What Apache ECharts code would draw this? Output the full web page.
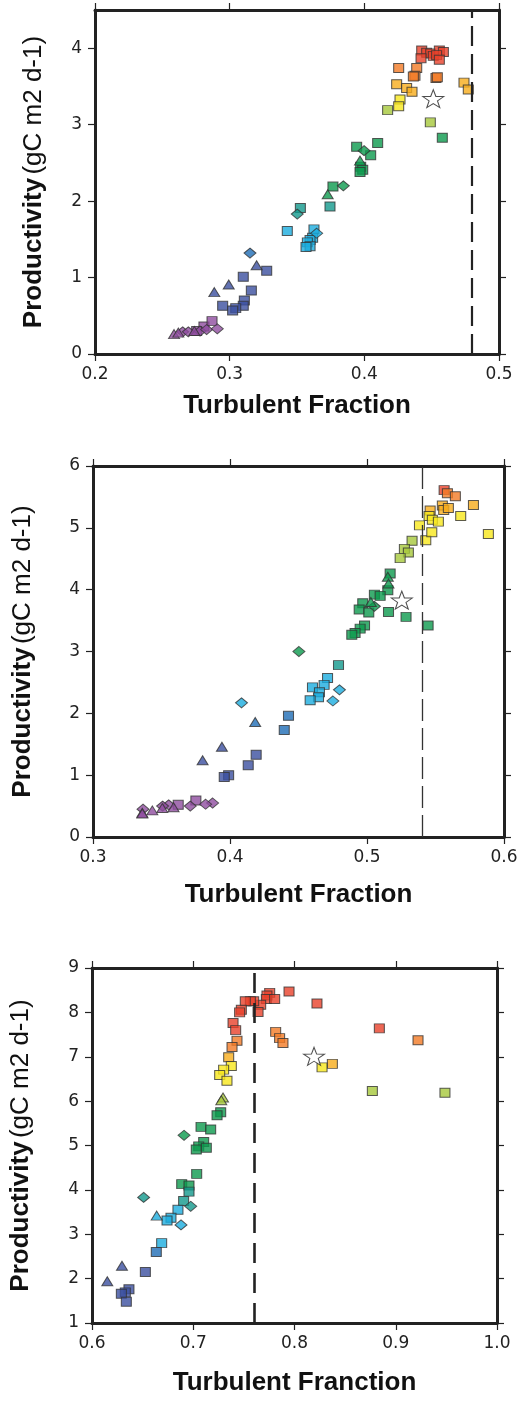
<!DOCTYPE html>
<html>
<head>
<meta charset="utf-8">
<script src="https://cdn.jsdelivr.net/npm/echarts@6/dist/echarts.min.js"></script>
<style>
html,body{margin:0;padding:0;background:#fff;}
#chart{width:524px;height:1403px;}
</style>
</head>
<body>
<div id="chart"></div>
<script>
// Colour levels (purple -> red)
const palette = ['#8e4c9f','#3b4f9f','#1f6db5','#1badde','#13998c','#0d9a4d','#a6c83b','#f7e71c','#f8ad1c','#f37b25','#e8412b'];

// ---------- Panel 1 ----------  [turbulent fraction, productivity, colour level]
const p1Squares = [
  [0.4426,3.97,10],[0.4463,3.94,10],[0.4493,3.93,10],[0.4512,3.90,10],[0.4557,3.97,10],[0.4587,3.95,10],
  [0.4421,3.87,10],[0.4537,3.91,10],[0.4557,3.85,10],
  [0.4255,3.74,9],[0.4389,3.74,9],[0.4376,3.64,9],[0.4364,3.63,9],[0.4532,3.61,9],[0.4542,3.62,9],
  [0.4240,3.53,8],[0.4314,3.48,8],[0.4354,3.43,8],[0.4740,3.55,8],[0.4772,3.46,8],
  [0.4265,3.33,7],[0.4255,3.24,7],
  [0.4173,3.19,6],[0.4490,3.03,6],
  [0.4579,2.83,5],[0.3943,2.71,5],[0.4047,2.60,5],[0.4099,2.76,5],[0.3973,2.45,5],[0.3988,2.41,5],[0.3968,2.38,5],
  [0.3767,2.19,5],
  [0.3745,1.93,4],[0.3525,1.91,4],
  [0.3428,1.61,3],[0.3626,1.63,3],[0.3616,1.52,3],[0.3597,1.49,3],[0.3577,1.46,3],[0.3597,1.41,3],[0.3567,1.40,3],
  [0.3275,1.09,1],[0.3101,1.01,1],[0.3161,0.83,1],[0.2948,0.63,1],[0.3109,0.70,1],[0.3101,0.63,1],[0.3045,0.60,1],[0.3022,0.57,1],
  [0.2809,0.36,0],[0.2869,0.43,0],[0.2755,0.30,0]
];
const p1Diamonds = [
  [0.3998,2.66,5],[0.3844,2.20,5],[0.3502,1.83,4],[0.3646,1.58,3],[0.3151,1.32,2],
  [0.2651,0.29,0],[0.2693,0.29,0],[0.2780,0.30,0],[0.2829,0.32,0],[0.2908,0.33,0]
];
const p1Triangles = [
  [0.3968,2.53,5],[0.3728,2.09,5],[0.3200,1.16,1],[0.2993,0.91,1],[0.2886,0.81,1],
  [0.2587,0.26,0],[0.2619,0.28,0],[0.2738,0.30,0]
];
const p1Star = [[0.4512,3.34]];
const p1Dash = 0.482;

// ---------- Panel 2 ----------
const p2Squares = [
  [0.5563,5.61,10],[0.5587,5.56,9],[0.5645,5.51,9],
  [0.5550,5.36,8],[0.5560,5.29,8],[0.5594,5.32,8],[0.5777,5.37,8],[0.5461,5.28,8],
  [0.5453,5.19,7],[0.5477,5.13,7],[0.5521,5.10,7],[0.5684,5.19,7],[0.5383,5.04,7],[0.5429,4.80,7],[0.5473,4.93,7],[0.5886,4.90,7],
  [0.5329,4.79,6],[0.5273,4.66,6],[0.5302,4.60,6],[0.5242,4.51,6],
  [0.5169,4.26,5],[0.5152,3.99,5],[0.5054,3.92,5],[0.5096,3.90,5],[0.4969,3.78,5],[0.4943,3.68,5],[0.5013,3.63,5],
  [0.5157,3.64,5],[0.5285,3.56,5],[0.5446,3.42,5],[0.4982,3.42,5],[0.4950,3.37,5],[0.4913,3.30,5],[0.4889,3.27,5],
  [0.4792,2.78,4],
  [0.4712,2.57,3],[0.4687,2.46,3],[0.4602,2.42,3],[0.4653,2.34,3],[0.4646,2.26,3],[0.4585,2.21,3],
  [0.4427,1.96,2],[0.4396,1.73,2],
  [0.4191,1.33,1],[0.4133,1.16,1],[0.3990,1.00,1],[0.3958,0.97,1],
  [0.3751,0.59,0],[0.3622,0.52,0]
];
const p2Diamonds = [
  [0.5054,3.73,5],[0.4503,3.00,5],[0.4799,2.38,3],[0.4751,2.20,3],[0.4084,2.17,3],
  [0.3873,0.55,0],[0.3822,0.53,0],[0.3710,0.50,0],[0.3552,0.52,0],[0.3508,0.50,0],[0.3365,0.45,0]
];
const p2Triangles = [
  [0.5152,4.21,5],[0.5157,4.10,5],[0.5028,3.80,5],[0.4184,1.86,2],[0.3941,1.46,1],[0.3800,1.24,1],
  [0.3588,0.48,0],[0.3506,0.47,0],[0.3433,0.43,0],[0.3360,0.39,0],[0.3360,0.38,0]
];
const p2Star = [[0.5254,3.83]];
const p2Dash = 0.535;

// ---------- Panel 3 ----------
const p3Squares = [
  [0.7946,8.47,10],[0.8222,8.20,10],[0.8838,7.64,10],[0.7755,8.44,10],[0.7728,8.38,10],[0.7722,8.30,10],[0.7804,8.30,10],
  [0.7666,8.17,10],[0.7640,8.01,10],[0.7597,8.25,10],[0.7564,8.25,10],[0.7514,8.25,10],[0.7475,8.06,10],[0.7458,8.00,10],
  [0.7393,7.76,10],[0.7419,7.60,10],
  [0.7432,7.36,9],[0.7383,7.22,9],[0.7814,7.56,9],[0.7853,7.42,9],[0.7886,7.31,9],[0.9220,7.37,9],
  [0.7350,6.99,8],[0.8374,6.84,8],
  [0.7376,6.79,7],[0.7300,6.71,7],[0.7261,6.59,7],[0.7333,6.46,7],[0.8272,6.76,7],
  [0.8769,6.23,6],[0.9486,6.19,6],
  [0.7271,5.75,5],[0.7235,5.68,5],[0.7077,5.42,5],[0.7172,5.36,5],[0.7103,5.08,5],[0.7054,4.98,5],[0.7030,4.91,5],
  [0.7129,4.95,5],[0.7034,4.36,5],[0.6886,4.13,5],[0.6958,4.10,5],[0.6958,3.96,4],
  [0.6905,3.75,4],
  [0.6849,3.55,3],[0.6780,3.37,3],[0.6741,3.31,3],[0.6688,2.80,3],
  [0.6635,2.60,2],[0.6527,2.15,1],
  [0.6365,1.76,1],[0.6329,1.69,1],[0.6290,1.66,1],[0.6339,1.48,1]
];
const p3Diamonds = [
  [0.6909,5.23,5],[0.6510,3.83,4],[0.6975,3.63,4],[0.6879,3.21,3]
];
const p3Triangles = [
  [0.7294,6.08,6],[0.7277,6.02,6],[0.6639,3.42,3],[0.6296,2.29,1],[0.6151,1.94,1]
];
const p3Star = [[0.8193,7.01]];
const p3Dash = 0.76;

// ---------- Axes ----------
const p1XTicks = [0.2,0.3,0.4,0.5], p1YTicks = [0,1,2,3,4];
const p2XTicks = [0.3,0.4,0.5,0.6], p2YTicks = [0,1,2,3,4,5,6];
const p3XTicks = [0.6,0.7,0.8,0.9,1.0], p3YTicks = [1,2,3,4,5,6,7,8,9];

const starPath = 'path://M50,2 L61.8,36.2 L97.6,36.5 L69,58 L79.4,92.4 L50,71.8 L20.6,92.4 L31,58 L2.4,36.5 L38.2,36.2 Z';
const ink = '#222';

const panels = [
  {grid:{left:95,top:10,width:404,height:344}, x:[0.2,0.5], y:[0,4.5], xt:p1XTicks, yt:p1YTicks,
   xName:'Turbulent Fraction', xGap:39, yGap:48, sq:p1Squares, di:p1Diamonds, tr:p1Triangles, st:p1Star,
   dash:p1Dash, dashStyle:{type:[20,8], width:2.2, color:'#222'}},
  {grid:{left:93,top:466,width:411,height:371}, x:[0.3,0.6], y:[0,6], xt:p2XTicks, yt:p2YTicks,
   xName:'Turbulent Fraction', xGap:45, yGap:57, sq:p2Squares, di:p2Diamonds, tr:p2Triangles, st:p2Star,
   dash:p2Dash, dashStyle:{type:[22,7], width:1.3, color:'#333'}},
  {grid:{left:92,top:968,width:405,height:355}, x:[0.6,1.0], y:[1,9], xt:p3XTicks, yt:p3YTicks,
   xName:'Turbulent Franction', xGap:47, yGap:58, sq:p3Squares, di:p3Diamonds, tr:p3Triangles, st:p3Star,
   dash:p3Dash, dashStyle:{type:[20,10], width:2.6, color:'#222'}}
];

const grids = [], xAxes = [], yAxes = [], series = [];
const lineStyle = {color:ink, width:3};
const tickStyle = {color:ink, width:1.2};

panels.forEach((p, k) => {
  grids.push(p.grid);
  const xBase = {gridIndex:k, type:'value', min:p.x[0], max:p.x[1], splitLine:{show:false},
    axisLine:{show:true, lineStyle:lineStyle, onZero:false},
    axisTick:{show:true, inside:false, length:7, lineStyle:tickStyle, customValues:p.xt}};
  xAxes.push(Object.assign({}, xBase, {position:'bottom',
    axisLabel:{show:true, customValues:p.xt, formatter:v => v.toFixed(1), margin:12,
      fontFamily:'DejaVu Sans', fontSize:17, color:ink},
    name:p.xName, nameLocation:'middle', nameGap:p.xGap,
    nameTextStyle:{fontFamily:'Liberation Sans', fontWeight:'bold', fontSize:26, color:'#111'}}));
  xAxes.push(Object.assign({}, xBase, {position:'top', axisLabel:{show:false}}));
  const yBase = {gridIndex:k, type:'value', min:p.y[0], max:p.y[1], splitLine:{show:false},
    axisLine:{show:true, lineStyle:lineStyle, onZero:false},
    axisTick:{show:true, inside:false, length:7, lineStyle:tickStyle, customValues:p.yt}};
  yAxes.push(Object.assign({}, yBase, {position:'left',
    axisLabel:{show:true, customValues:p.yt, formatter:v => String(Math.round(v)), margin:13,
      fontFamily:'DejaVu Sans', fontSize:17, color:ink},
    name:'{b|Productivity} {n|(gC m2 d-1)}', nameLocation:'middle', nameGap:p.yGap, nameRotate:90,
    nameTextStyle:{rich:{
      b:{fontFamily:'Liberation Sans', fontWeight:'bold', fontSize:26, color:'#111'},
      n:{fontFamily:'Liberation Sans', fontSize:26, color:'#111'}}}}));
  yAxes.push(Object.assign({}, yBase, {position:'right', axisLabel:{show:false}}));

  const xi = 2*k, yi = 2*k;
  const colorFn = params => palette[params.data[2]];
  const mk = {borderColor:'#333', borderWidth:1};
  series.push({type:'scatter', xAxisIndex:xi, yAxisIndex:yi, symbol:'rect', symbolSize:[10,9],
    data:p.sq, itemStyle:Object.assign({color:colorFn}, mk), z:3,
    markLine:{silent:true, symbol:'none', label:{show:false}, lineStyle:p.dashStyle,
      emphasis:{disabled:true}, data:[{xAxis:p.dash}]}});
  series.push({type:'scatter', xAxisIndex:xi, yAxisIndex:yi, symbol:'diamond', symbolSize:[12,10],
    data:p.di, itemStyle:Object.assign({color:colorFn}, mk), z:4});
  series.push({type:'scatter', xAxisIndex:xi, yAxisIndex:yi, symbol:'triangle', symbolSize:[11,9],
    data:p.tr, itemStyle:Object.assign({color:colorFn}, mk), z:4});
  series.push({type:'scatter', xAxisIndex:xi, yAxisIndex:yi, symbol:starPath, symbolSize:[21,18],
    data:p.st, itemStyle:{color:'#fff', borderColor:'#222', borderWidth:1}, z:5});
});

const chart = echarts.init(document.getElementById('chart'), null, {renderer:'canvas'});
chart.setOption({
  animation:false,
  backgroundColor:'#fff',
  grid:grids, xAxis:xAxes, yAxis:yAxes, series:series
});
</script>
</body>
</html>
